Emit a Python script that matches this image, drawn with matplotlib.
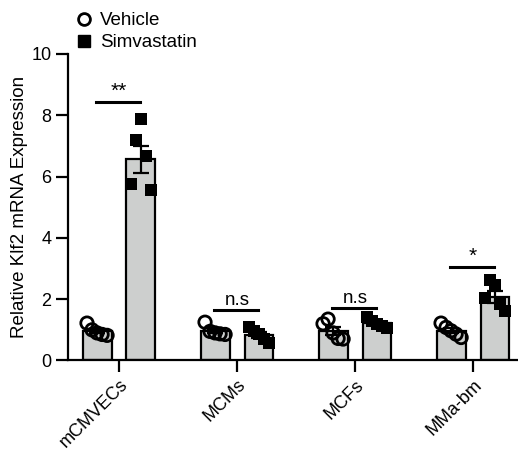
import numpy as np
import matplotlib
matplotlib.use("Agg")
import matplotlib.pyplot as plt
from matplotlib.lines import Line2D

plt.rcParams['font.family'] = ['Liberation Sans', 'DejaVu Sans']

# data
cells = ["mCMVECs", "MCMs", "MCFs", "MMa-bm"]
vehicle_mean = [0.96, 0.96, 0.97, 0.97]
simva_mean = [6.56, 0.83, 1.21, 2.07]
vehicle_sem = [0.07, 0.07, 0.13, 0.08]
simva_sem = [0.45, 0.09, 0.06, 0.19]
vehicle_pts = [
    [1.22, 1.00, 0.90, 0.85, 0.82],
    [1.25, 0.95, 0.90, 0.87, 0.85],
    [1.20, 1.35, 0.90, 0.72, 0.70],
    [1.22, 1.08, 0.97, 0.86, 0.75],
]
simva_pts = [
    [5.77, 7.19, 7.87, 6.67, 5.56],
    [1.10, 0.95, 0.85, 0.70, 0.57],
    [1.42, 1.30, 1.20, 1.12, 1.05],
    [2.05, 2.62, 2.45, 1.85, 1.60],
]
sig_labels = ["**", "n.s", "n.s", "*"]
sig_heights = [8.45, 1.65, 1.71, 3.06]

bar_color = "#cdcfce"
lw = 1.6
w = 0.245
off = 0.186

fig = plt.figure(figsize=(5.18, 4.53), dpi=100)
ax = fig.add_axes([0.1313, 0.2042, 0.8687, 0.6766])

x = np.arange(len(cells))
ax.bar(x - off, vehicle_mean, w, color=bar_color, edgecolor="black", linewidth=lw, zorder=2)
ax.bar(x + off, simva_mean, w, color=bar_color, edgecolor="black", linewidth=lw, zorder=2)
ax.errorbar(x - off, vehicle_mean, yerr=vehicle_sem, fmt="none", ecolor="black",
            elinewidth=lw, capsize=5.5, capthick=lw, zorder=3)
ax.errorbar(x + off, simva_mean, yerr=simva_sem, fmt="none", ecolor="black",
            elinewidth=lw, capsize=5.5, capthick=lw, zorder=3)

spread = np.linspace(-0.085, 0.085, 5)
for i in range(len(cells)):
    ax.scatter(x[i] - off + spread, vehicle_pts[i], s=80, marker="o",
               facecolors="none", edgecolors="black", linewidths=2.0, zorder=4)
    ax.scatter(x[i] + off + spread, simva_pts[i], s=85, marker="s",
               color="black", linewidths=0, zorder=4)

for i in range(len(cells)):
    h = sig_heights[i]
    ax.plot([x[i] - off - 0.01, x[i] + off - 0.01], [h, h], color="black", lw=2.2, zorder=5)
    fs = 15 if "*" in sig_labels[i] else 13.5
    ax.text(x[i], h + 0.03, sig_labels[i], ha="center", va="bottom", fontsize=fs)

ax.set_xlim(-0.432, 3.381)
ax.set_ylim(0, 10)
ax.set_yticks([0, 2, 4, 6, 8, 10])
ax.set_xticks(x)
ax.set_xticklabels(cells, rotation=45, ha="right", rotation_mode="anchor", fontsize=13)
ax.tick_params(axis="both", width=1.6, length=8.5, labelsize=13)
ax.tick_params(axis="x", pad=3)
for s in ["top", "right"]:
    ax.spines[s].set_visible(False)
for s in ["left", "bottom"]:
    ax.spines[s].set_linewidth(1.6)
ax.spines["bottom"].set_zorder(6)
ax.set_ylabel("Relative Klf2 mRNA Expression", fontsize=13.5)
ax.yaxis.set_label_coords(-0.088, 0.5)

handles = [
    Line2D([], [], marker="o", ls="none", markerfacecolor="none", markeredgecolor="black",
           markeredgewidth=2.0, markersize=8.5),
    Line2D([], [], marker="s", ls="none", color="black", markersize=8.5),
]
fig.legend(handles, ["Vehicle", "Simvastatin"], loc="upper left",
           bbox_to_anchor=(0.119, 1.006), frameon=False, fontsize=13.5,
           handlelength=0.8, handletextpad=0.45, labelspacing=0.25, borderpad=0.3)

fig.savefig("out.png", dpi=100)
